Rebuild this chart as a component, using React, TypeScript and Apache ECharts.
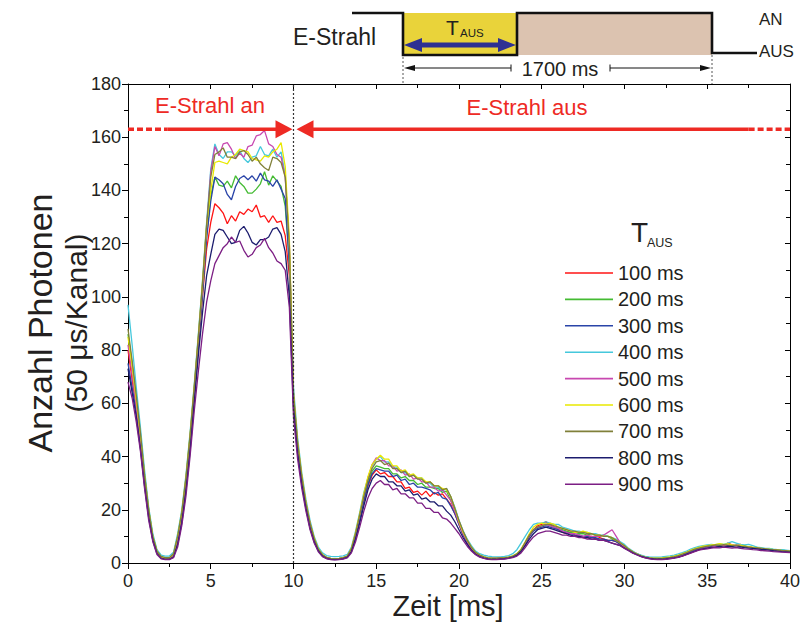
import React, { useEffect, useRef } from 'react';
import * as echarts from 'echarts';

// sampling of the photon counter, 0.25 ms per plotted point (0 .. 40 ms)
const timeStepMs = 0.25;
const xRange = { min: 0, max: 40, interval: 5 };
const yRange = { min: 0, max: 180, interval: 20 };
const beamOffTime = 10;
const beamArrowLevel = 163;

const legendNames = ['100 ms', '200 ms', '300 ms', '400 ms', '500 ms', '600 ms', '700 ms', '800 ms', '900 ms'];
const lineColors = ['#ff1414', '#44bb33', '#2a44a8', '#45c8dc', '#c848b0', '#e8e800', '#80803a', '#1c1c6e', '#7c1e84'];

const t100 = [
  80, 69, 58, 45, 30, 18, 9, 4, 2, 1.6, 1.6, 2.8, 8.5, 17, 30, 46, 63, 81, 100, 118,
  128, 135, 133.5, 131.5, 127.5, 130.5, 128.5, 132, 131, 133, 132, 134.5, 130, 130.5, 128, 130.5, 128, 128.5, 123, 108,
  60, 42, 30, 21, 13.5, 8.5, 4.8, 2.8, 1.9, 1.5, 1.4, 1.5, 1.7, 2.2, 4.5, 9.5, 16, 23, 29, 33,
  35, 33.5, 34, 32.5, 32.5, 30.5, 30.5, 28, 28.5, 26.5, 27, 25.5, 27, 25, 26.5, 25.5, 26, 24, 22, 18.5,
  14.5, 10.5, 7.5, 5, 3.5, 2.5, 2, 1.7, 1.6, 1.6, 1.7, 1.8, 2, 2.3, 3, 4.5, 7, 10, 12.5, 14,
  14.5, 15.5, 14.5, 13.5, 12.5, 11.5, 11, 11.5, 10.5, 10, 9.5, 9.5, 10, 9, 9.5, 9, 8.5, 8.5, 8, 7,
  6, 5, 4.2, 3.5, 2.8, 2.2, 1.8, 1.6, 1.5, 1.5, 1.6, 1.8, 2, 2.3, 2.7, 3.2, 3.8, 4.5, 5, 5.5,
  6, 6.3, 6.5, 7, 6.5, 7.5, 6.8, 6.5, 7, 6.2, 6, 5.8, 5.5, 5.3, 5, 5.2, 4.8, 5, 4.6, 4.5, 4.4,
];
const t200 = [
  86, 75, 62, 48, 33, 20, 10, 4.5, 2.3, 1.8, 1.8, 3, 9, 18, 31, 47, 65, 83, 102, 123,
  138, 145, 142, 141.5, 143.5, 141, 145.5, 143, 141.5, 139, 139, 140.5, 142.5, 147, 142, 145.5, 143.5, 141.5, 134, 113,
  62, 44, 32, 22, 14.5, 9, 5, 3, 2, 1.6, 1.5, 1.6, 1.9, 2.5, 5, 10.5, 17, 24, 30, 34.5,
  36.5, 36, 35.5, 35.5, 33.5, 33.5, 32, 32.5, 31, 31, 29.5, 30, 28.5, 28.5, 28, 28, 26.5, 27, 23.5, 20,
  15.5, 11.5, 8.5, 6, 4, 3, 2.2, 1.8, 1.7, 1.7, 1.8, 1.9, 2.1, 2.5, 3.3, 5, 7.5, 10.5, 12.5, 13.5,
  14, 14.5, 14, 13.5, 13, 12.5, 12, 11.5, 11.5, 11, 11, 10.5, 11, 10.5, 10, 10.5, 10, 9, 8.5, 7.5,
  6.5, 5.2, 4.2, 3.4, 2.7, 2.1, 1.8, 1.6, 1.6, 1.6, 1.7, 1.9, 2.1, 2.5, 3, 3.6, 4.3, 5, 5.4, 5.8,
  6, 6.2, 6.5, 6.3, 6.8, 6.5, 6.4, 6.6, 6.2, 6.5, 6, 5.8, 5.9, 5.5, 5.2, 5.3, 5, 4.8, 4.9, 4.6, 4.5,
];
const t300 = [
  75, 66, 57, 44, 30, 18, 9, 4, 2, 1.6, 1.6, 2.8, 8.5, 17, 30, 46, 64, 82, 101, 122,
  136, 145, 144, 142.5, 138.5, 136.5, 141.5, 144.5, 145.5, 144, 145.5, 143.5, 146.5, 144, 143.5, 141.5, 144, 140.5, 137, 112,
  61, 43, 31, 21.5, 14, 8.5, 4.8, 2.8, 1.9, 1.5, 1.4, 1.5, 1.8, 2.3, 4.7, 10, 16.5, 23.5, 29.5, 33.5,
  35.5, 35, 34.5, 34.5, 32.5, 33, 31, 31.5, 29.5, 30, 28.5, 28.5, 28, 27.5, 26, 26.5, 24.5, 24, 21.5, 18.5,
  14.5, 10.5, 7.5, 5.2, 3.6, 2.6, 2, 1.7, 1.6, 1.6, 1.7, 1.8, 2, 2.4, 3.2, 4.8, 7.2, 10, 12, 13,
  13.5, 14, 13.5, 13, 12.5, 12, 11.5, 11, 10.5, 10.5, 10, 10, 9.5, 9.5, 9, 9, 8.5, 8.5, 8, 7,
  6, 5, 4, 3.3, 2.6, 2.1, 1.8, 1.6, 1.5, 1.5, 1.6, 1.8, 2, 2.4, 2.9, 3.5, 4.2, 4.8, 5.3, 5.7,
  6, 6.2, 6.4, 6.3, 6.7, 6.5, 6.3, 6.6, 6.4, 6.1, 6, 5.7, 5.6, 5.4, 5.2, 5, 4.9, 4.8, 4.6, 4.4, 4.3,
];
const t400 = [
  97, 82, 66, 51, 35, 21, 11, 5, 3, 2.6, 2.6, 4, 11, 20, 33, 49, 67, 86, 106, 128,
  148, 157.5, 153.5, 152, 154.5, 154.5, 153, 155, 152, 150.5, 152.5, 153, 156.5, 153.5, 153, 155.5, 152.5, 154.5, 146, 118,
  66, 47, 34, 24, 16, 10, 6, 3.8, 2.8, 2.5, 2.4, 2.5, 2.7, 3.2, 6, 12, 19, 26.5, 32, 36.5,
  39, 40, 38, 38, 36, 36, 34, 34, 32.5, 33, 32, 32, 30, 30, 28.5, 28.5, 27, 28, 25, 21,
  16, 12, 9, 6.5, 4.5, 3.5, 3, 2.6, 2.4, 2.3, 2.3, 2.5, 2.8, 3.5, 5, 7.5, 10, 12.5, 14.5, 15,
  15, 15.5, 15, 14.5, 14.5, 13.5, 13, 12.5, 12, 12, 11.5, 11.5, 11, 11, 10.5, 10.5, 10, 9.5, 9, 8,
  7, 5.5, 4.5, 3.5, 3, 2.5, 2.3, 2.2, 2.2, 2.3, 2.5, 2.7, 3, 3.4, 3.9, 4.5, 5.2, 5.8, 6.2, 6.5,
  6.8, 7, 6.8, 7.2, 7, 7.5, 8, 7.5, 7, 6.8, 7, 6.5, 6, 5.8, 5.5, 5.5, 5.2, 5, 5, 4.8, 4.6,
];
const t500 = [
  82, 71, 59, 46, 31, 19, 9.5, 4, 2.2, 1.8, 1.8, 3, 9, 18, 31, 47, 65, 84, 104, 126,
  147, 156.5, 153, 157.5, 158, 155.5, 152, 154, 152.5, 156.5, 157, 160.5, 161, 162.5, 157.5, 156.5, 153.5, 152.5, 145, 120,
  63, 45, 32.5, 22.5, 15, 9, 5, 3, 2, 1.6, 1.5, 1.6, 1.9, 2.5, 5.2, 11, 18, 25.5, 32, 37,
  39.5, 38.5, 38.5, 36.5, 36.5, 34.5, 35, 33, 33.5, 31.5, 32, 30.5, 30.5, 28.5, 28.5, 27, 27.5, 25.5, 23.5, 19.5,
  15, 11, 8, 5.5, 3.8, 2.8, 2.1, 1.8, 1.7, 1.7, 1.8, 1.9, 2.1, 2.5, 3.2, 4.8, 7.5, 10.5, 12.5, 13.5,
  14, 14.5, 14, 13.5, 13, 12, 11.5, 11, 11, 10.5, 10, 10.5, 10, 10, 10, 10.5, 11.5, 12.5, 10, 7.5,
  6, 5, 4, 3.2, 2.5, 2, 1.7, 1.5, 1.5, 1.5, 1.6, 1.8, 2, 2.3, 2.8, 3.4, 4, 4.6, 5.1, 5.5,
  5.8, 6, 6.3, 6.2, 6.5, 6.3, 6.6, 6.4, 6.2, 6, 6.1, 5.8, 5.6, 5.4, 5.2, 5, 4.8, 4.6, 4.5, 4.3, 4.2,
];
const t600 = [
  85, 74, 61, 48, 33, 20, 10, 4.5, 2.3, 1.8, 1.9, 3.2, 10, 19, 32, 48, 66, 85, 105, 127,
  140, 150.5, 151, 150.5, 150, 152.5, 153.5, 155.5, 155, 154.5, 152, 151.5, 151, 153, 152.5, 154.5, 155.5, 158, 149, 122,
  64, 45.5, 33, 23, 15, 9.5, 5.3, 3.2, 2.1, 1.7, 1.6, 1.7, 2, 2.6, 5.5, 11.5, 18.5, 26, 32.5, 37,
  39, 40.5, 39, 39, 36.5, 36.5, 34.5, 35, 33, 33.5, 32, 32, 30.5, 30.5, 29, 29, 28, 27.5, 25, 20.5,
  15.5, 11.5, 8.5, 6, 4, 3, 2.3, 1.9, 1.7, 1.7, 1.8, 2, 2.2, 2.7, 3.5, 5.2, 8, 11, 13.5, 14.5,
  15, 14.5, 15, 14.5, 13.5, 13, 12.5, 12, 11.5, 11.5, 12, 11.5, 11, 10.5, 10.5, 10, 10, 9.5, 8.5, 7.5,
  6.5, 5.2, 4.2, 3.3, 2.7, 2.2, 1.9, 1.8, 1.8, 1.9, 2.1, 2.3, 2.6, 3, 3.5, 4.1, 4.8, 5.4, 5.9, 6.3,
  6.5, 6.8, 7, 7.3, 7, 7.2, 6.8, 6.5, 6.7, 6.3, 6.1, 6, 5.7, 5.5, 5.3, 5.2, 5, 4.9, 4.7, 4.6, 4.5,
];
const t700 = [
  88, 76, 63, 49, 33, 20, 10, 4.5, 2.5, 2, 2, 3.5, 10, 19, 32, 48, 66, 85, 105, 127,
  145, 153.5, 154.5, 156, 152.5, 152.5, 152, 154.5, 155, 153.5, 151, 152.5, 150, 148.5, 147.5, 152.5, 152, 150.5, 145, 119,
  63, 45, 32.5, 22.5, 15, 9.2, 5.2, 3.1, 2.1, 1.7, 1.6, 1.7, 2, 2.6, 5.3, 11, 18, 25, 31, 35.5,
  38, 38.5, 37, 37.5, 35.5, 35.5, 34, 34.5, 32.5, 33, 31.5, 31.5, 30, 30.5, 29, 29, 27.5, 28, 25, 20.5,
  16, 12, 8.5, 6, 4, 3, 2.3, 1.9, 1.8, 1.8, 1.9, 2, 2.2, 2.6, 3.4, 5, 7.8, 10.5, 12.5, 13.5,
  14, 14.5, 14.5, 14, 13.5, 13, 12.5, 12, 12, 11.5, 11.5, 11, 11, 10.5, 10.5, 10, 10, 9.5, 8.5, 7.5,
  6.5, 5.2, 4.2, 3.3, 2.7, 2.2, 1.9, 1.7, 1.7, 1.7, 1.9, 2.1, 2.4, 2.8, 3.3, 3.9, 4.6, 5.2, 5.6, 6,
  6.3, 6.5, 6.8, 6.6, 6.9, 6.7, 6.5, 6.7, 6.3, 6.2, 6, 5.8, 5.7, 5.5, 5.3, 5.1, 5, 4.9, 4.7, 4.6, 4.5,
];
const t800 = [
  73, 64, 55, 43, 29, 17, 8.5, 3.5, 1.8, 1.4, 1.4, 2.2, 7, 15, 27, 42, 60, 78, 94, 108,
  116, 123.5, 125.5, 125, 122.5, 120, 120.5, 125, 126.5, 124, 120.5, 119.5, 121.5, 121.5, 122.5, 125.5, 126, 123.5, 117, 100,
  58, 41, 29.5, 20.5, 13, 8, 4.5, 2.6, 1.7, 1.4, 1.3, 1.4, 1.6, 2.1, 4.2, 9, 15, 21.5, 27.5, 31.5,
  33.5, 32.5, 32.5, 30.5, 30.5, 29, 29, 27, 27.5, 25.5, 26, 24, 24.5, 23, 23, 21.5, 21.5, 19.5, 18, 15.5,
  12.5, 9.5, 7, 4.8, 3.3, 2.4, 1.8, 1.5, 1.4, 1.4, 1.5, 1.6, 1.8, 2.2, 2.9, 4.3, 6.5, 9, 11, 12.5,
  13, 13.5, 13, 12.5, 12, 11.5, 11, 10.5, 10, 10, 9.5, 9.5, 9, 9, 8.5, 8.5, 8, 7.5, 7, 6.5,
  5.6, 4.7, 3.8, 3.1, 2.5, 2, 1.7, 1.5, 1.4, 1.4, 1.5, 1.7, 1.9, 2.2, 2.7, 3.3, 3.9, 4.5, 5, 5.3,
  5.6, 5.9, 6, 6.2, 6, 6.3, 6.1, 5.9, 6.1, 5.8, 5.6, 5.5, 5.3, 5.1, 5, 4.8, 4.6, 4.5, 4.3, 4.2, 4.1,
];
const t900 = [
  68, 62, 53, 42, 28, 16, 8, 3.2, 1.6, 1.3, 1.3, 2, 6, 14, 25, 40, 57, 72, 86, 98,
  106, 112.5, 115.5, 118.5, 120, 122.5, 120.5, 121, 117.5, 115, 116, 118.5, 119.5, 122, 118.5, 116.5, 113.5, 112.5, 110, 96,
  55, 39, 28, 19.5, 12.5, 7.5, 4.2, 2.4, 1.6, 1.3, 1.2, 1.3, 1.5, 1.9, 3.8, 8, 13.5, 19.5, 24.5, 28,
  30, 31, 29.5, 29.5, 27.5, 28, 26, 26, 24.5, 24.5, 22.5, 22.5, 20.5, 20.5, 19, 19, 17, 16.5, 15, 13,
  11, 8.5, 6.3, 4.5, 3.1, 2.2, 1.7, 1.4, 1.3, 1.3, 1.4, 1.5, 1.7, 2, 2.6, 3.8, 5.8, 8, 9.8, 11,
  11.5, 12, 12, 11.5, 11, 10.5, 10.5, 10, 10, 9.5, 9.5, 9, 9, 9, 8.5, 8.5, 8, 7.5, 7, 6.5,
  5.5, 4.6, 3.7, 3, 2.4, 1.9, 1.6, 1.4, 1.3, 1.3, 1.4, 1.6, 1.8, 2.1, 2.6, 3.1, 3.7, 4.3, 4.8, 5.1,
  5.3, 5.6, 5.8, 5.7, 6, 5.8, 5.6, 5.8, 5.5, 5.3, 5.2, 5, 4.9, 4.7, 4.6, 4.5, 4.3, 4.2, 4.1, 4, 3.9,
];
const seriesValues = [t100, t200, t300, t400, t500, t600, t700, t800, t900];

const FONT = "'Liberation Sans', Arial, Helvetica, sans-serif";
const INK = '#231f20';
const RED = '#ee2a24';

export default function App() {
  const ref = useRef<HTMLDivElement>(null);

  useEffect(() => {
    if (!ref.current) return;
    const chart = echarts.init(ref.current, null, { renderer: 'svg' });

    const axisLine = { show: true, onZero: false, lineStyle: { color: '#000', width: 1 } };
    const option: any = {
      animation: false,
      backgroundColor: '#fff',
      grid: { left: 128, right: 11, top: 84, bottom: 64, containLabel: false },
      xAxis: [
        {
          type: 'value', position: 'bottom', ...xRange,
          axisLine, splitLine: { show: false },
          axisTick: { show: true, inside: false, length: 6, lineStyle: { color: '#000' } },
          minorTick: { show: true, splitNumber: 2, length: 4, lineStyle: { color: '#000' } },
          axisLabel: { fontSize: 18, color: INK, fontFamily: FONT, margin: 9 },
        },
        {
          type: 'value', position: 'top', ...xRange,
          axisLine, splitLine: { show: false },
          axisTick: { show: true, inside: true, length: 5, lineStyle: { color: '#000' } },
          minorTick: { show: true, splitNumber: 2, length: 4, lineStyle: { color: '#000' } },
          axisLabel: { show: false },
        },
      ],
      yAxis: [
        {
          type: 'value', position: 'left', ...yRange,
          axisLine, splitLine: { show: false },
          axisTick: { show: true, inside: false, length: 6, lineStyle: { color: '#000' } },
          minorTick: { show: true, splitNumber: 2, length: 4, lineStyle: { color: '#000' } },
          axisLabel: { fontSize: 18, color: INK, fontFamily: FONT, margin: 7 },
        },
        {
          type: 'value', position: 'right', ...yRange,
          axisLine, splitLine: { show: false },
          axisTick: { show: true, inside: true, length: 5, lineStyle: { color: '#000' } },
          minorTick: { show: true, splitNumber: 2, length: 4, lineStyle: { color: '#000' } },
          axisLabel: { show: false },
        },
      ],
      legend: {
        show: true, orient: 'vertical', left: 560, top: 258,
        icon: 'rect',
        itemWidth: 48, itemHeight: 1.6, itemGap: 6.4,
        selectedMode: false,
        data: legendNames,
        textStyle: { fontSize: 20, color: INK, fontFamily: FONT, lineHeight: 20 },
      },
      series: seriesValues.map((vals, k) => ({
        type: 'line',
        name: legendNames[k],
        xAxisIndex: 0, yAxisIndex: 0,
        data: vals.map((v, i) => [i * timeStepMs, v]),
        symbol: 'none', showSymbol: false,
        lineStyle: { width: 1.3, color: lineColors[k] },
        itemStyle: { color: lineColors[k] },
        z: 2 + k * 0.01,
      })),
    };
    chart.setOption(option);

    const px = (x: number, y: number) => chart.convertToPixel({ gridIndex: 0 }, [x, y]) as number[];
    const ay = px(0, beamArrowLevel)[1];
    const x0 = px(0, 0)[0];
    const xOff = px(beamOffTime, 0)[0];
    const xEnd = px(40, 0)[0];
    const xDashL = px(2.4, 0)[0];
    const xDashR = px(37.5, 0)[0];
    const yBot = px(0, 0)[1];
    const yTop = px(0, 180)[1];
    const tipL = xOff - 1;
    const tipR = xOff + 3;
    const redLine = { stroke: RED, lineWidth: 3.5 };

    const graphic: any[] = [
      // beam diagram
      { type: 'rect', shape: { x: 403, y: 13, width: 114, height: 42 }, style: { fill: '#e9d33a' }, z: 100 },
      { type: 'rect', shape: { x: 517, y: 13, width: 195, height: 42 }, style: { fill: '#dcc3b0' }, z: 100 },
      {
        type: 'polyline',
        shape: { points: [[352, 13], [403, 13], [403, 55], [517, 55], [517, 13], [712, 13], [712, 53], [757, 53]] },
        style: { stroke: '#111', lineWidth: 2.6, fill: 'none' }, z: 101,
      },
      { type: 'line', shape: { x1: 418, y1: 45, x2: 502, y2: 45 }, style: { stroke: '#2e3192', lineWidth: 5 }, z: 102 },
      { type: 'polygon', shape: { points: [[404, 45], [422, 38], [422, 52]] }, style: { fill: '#2e3192' }, z: 102 },
      { type: 'polygon', shape: { points: [[516, 45], [498, 38], [498, 52]] }, style: { fill: '#2e3192' }, z: 102 },
      { type: 'text', x: 446, y: 27, style: { text: 'T', fontSize: 21, fill: INK, fontFamily: FONT, textAlign: 'left', textVerticalAlign: 'middle' }, z: 103 },
      { type: 'text', x: 460, y: 33, style: { text: 'AUS', fontSize: 11.5, fill: INK, fontFamily: FONT, textAlign: 'left', textVerticalAlign: 'middle' }, z: 103 },
      { type: 'text', x: 293, y: 37, style: { text: 'E-Strahl', fontSize: 23, fill: INK, fontFamily: FONT, textAlign: 'left', textVerticalAlign: 'middle' }, z: 103 },
      { type: 'text', x: 759, y: 19, style: { text: 'AN', fontSize: 17, fill: INK, fontFamily: FONT, textAlign: 'left', textVerticalAlign: 'middle' }, z: 103 },
      { type: 'text', x: 759, y: 51, style: { text: 'AUS', fontSize: 17, fill: INK, fontFamily: FONT, textAlign: 'left', textVerticalAlign: 'middle' }, z: 103 },
      { type: 'line', shape: { x1: 403, y1: 57, x2: 403, y2: yTop }, style: { stroke: '#555', lineWidth: 1, lineDash: [2, 2] }, z: 100 },
      { type: 'line', shape: { x1: 712, y1: 55, x2: 712, y2: yTop }, style: { stroke: '#555', lineWidth: 1, lineDash: [2, 2] }, z: 100 },
      { type: 'line', shape: { x1: 408, y1: 68, x2: 511, y2: 68 }, style: { stroke: '#111', lineWidth: 1 }, z: 100 },
      { type: 'line', shape: { x1: 511, y1: 64.5, x2: 511, y2: 71.5 }, style: { stroke: '#111', lineWidth: 1 }, z: 100 },
      { type: 'polygon', shape: { points: [[404, 68], [415, 65], [415, 71]] }, style: { fill: '#111' }, z: 100 },
      { type: 'line', shape: { x1: 610, y1: 68, x2: 706, y2: 68 }, style: { stroke: '#111', lineWidth: 1 }, z: 100 },
      { type: 'line', shape: { x1: 610, y1: 64.5, x2: 610, y2: 71.5 }, style: { stroke: '#111', lineWidth: 1 }, z: 100 },
      { type: 'polygon', shape: { points: [[711, 68], [700, 65], [700, 71]] }, style: { fill: '#111' }, z: 100 },
      { type: 'text', x: 560, y: 69, style: { text: '1700 ms', fontSize: 20, fill: INK, fontFamily: FONT, textAlign: 'center', textVerticalAlign: 'middle' }, z: 103 },

      // beam on / off annotation inside the plot
      { type: 'line', shape: { x1: xOff, y1: yBot, x2: xOff, y2: yTop }, style: { stroke: '#333', lineWidth: 1.2, lineDash: [2, 2] }, z: 100 },
      { type: 'line', shape: { x1: x0, y1: ay, x2: xDashL, y2: ay }, style: { ...redLine, lineDash: [6, 3] }, z: 101 },
      { type: 'line', shape: { x1: xDashL, y1: ay, x2: tipL - 14, y2: ay }, style: redLine, z: 101 },
      { type: 'polygon', shape: { points: [[tipL, ay], [tipL - 17, ay - 9], [tipL - 17, ay + 9]] }, style: { fill: RED }, z: 101 },
      { type: 'polygon', shape: { points: [[tipR, ay], [tipR + 17, ay - 9], [tipR + 17, ay + 9]] }, style: { fill: RED }, z: 101 },
      { type: 'line', shape: { x1: tipR + 14, y1: ay, x2: xDashR, y2: ay }, style: redLine, z: 101 },
      { type: 'line', shape: { x1: xDashR, y1: ay, x2: xEnd, y2: ay }, style: { ...redLine, lineDash: [6, 3] }, z: 101 },
      { type: 'text', x: 210, y: 105, style: { text: 'E-Strahl an', fontSize: 22, fill: RED, fontFamily: FONT, textAlign: 'center', textVerticalAlign: 'middle' }, z: 103 },
      { type: 'text', x: 527, y: 107, style: { text: 'E-Strahl aus', fontSize: 22, fill: RED, fontFamily: FONT, textAlign: 'center', textVerticalAlign: 'middle' }, z: 103 },

      // legend title
      { type: 'text', x: 631, y: 232, style: { text: 'T', fontSize: 28, fill: INK, fontFamily: FONT, textAlign: 'left', textVerticalAlign: 'middle' }, z: 103 },
      { type: 'text', x: 647, y: 243, style: { text: 'AUS', fontSize: 12.5, fill: INK, fontFamily: FONT, textAlign: 'left', textVerticalAlign: 'middle' }, z: 103 },

      // axis titles
      { type: 'text', x: 448, y: 606, style: { text: 'Zeit [ms]', fontSize: 29, fill: INK, fontFamily: FONT, textAlign: 'center', textVerticalAlign: 'middle' }, z: 103 },
      { type: 'text', x: 40, y: 323, rotation: Math.PI / 2, style: { text: 'Anzahl Photonen', fontSize: 34, fill: INK, fontFamily: FONT, textAlign: 'center', textVerticalAlign: 'middle' }, z: 103 },
      { type: 'text', x: 76, y: 323, rotation: Math.PI / 2, style: { text: '(50 μs/Kanal)', fontSize: 30, fill: INK, fontFamily: FONT, textAlign: 'center', textVerticalAlign: 'middle' }, z: 103 },
    ];
    chart.setOption({ graphic });

    return () => chart.dispose();
  }, []);

  return (
    <div
      ref={ref}
      style={{ position: 'fixed', left: 0, top: 0, width: 803, height: 627, background: '#fff' }}
    />
  );
}
